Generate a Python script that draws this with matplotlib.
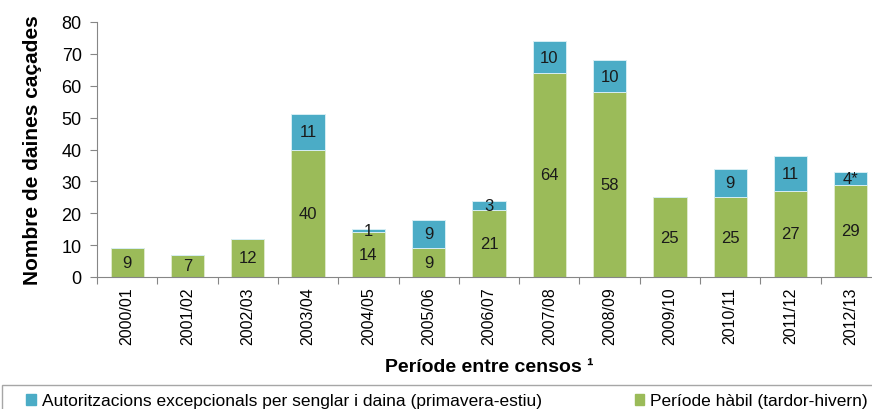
import numpy as np
import matplotlib.pyplot as plt
from matplotlib.patches import Rectangle

plt.rcParams["font.family"] = ["Liberation Sans", "DejaVu Sans"]

# ---------------------------------------------------------------------------
# Data
# ---------------------------------------------------------------------------

periods = ["2000/01", "2001/02", "2002/03", "2003/04", "2004/05", "2005/06",
           "2006/07", "2007/08", "2008/09", "2009/10", "2010/11", "2011/12",
           "2012/13"]
habil = [9, 7, 12, 40, 14, 9, 21, 64, 58, 25, 25, 27, 29]
excep = [0, 0, 0, 11, 1, 9, 3, 10, 10, 0, 9, 11, 4]
excep_labels = ["", "", "", "11", "1", "9", "3", "10", "10", "", "9", "11", "4*"]

GREEN = "#9BBB59"
BLUE = "#4BACC6"
GRID = "#868686"

# ---------------------------------------------------------------------------
# Plot
# ---------------------------------------------------------------------------

fig = plt.figure(figsize=(8.72, 4.10), dpi=100)
ax = fig.add_axes([97 / 872, 132 / 410, 784 / 872, 255 / 410])

x = np.arange(len(periods))
w = 0.55
ax.bar(x, habil, w, color=GREEN, edgecolor="#dfeacb", linewidth=0.7, zorder=2)
ax.bar(x, excep, w, bottom=habil, color=BLUE, edgecolor="#d6eef4",
       linewidth=0.7, zorder=2)

for i in range(len(periods)):
    ax.text(x[i], habil[i] / 2, str(habil[i]), ha="center", va="center",
            fontsize=12, color="#1a1a1a", zorder=3)
    if excep_labels[i]:
        ax.text(x[i], habil[i] + excep[i] / 2, excep_labels[i], ha="center",
                va="center", fontsize=12, color="#1a1a1a", zorder=3)

ax.set_xlim(-0.5, len(periods) - 0.5)
ax.set_ylim(0, 80)
ax.set_yticks(np.arange(0, 81, 10))

ax.set_xticks(np.arange(-0.5, len(periods), 1.0))
ax.set_xticklabels([])
ax.set_xticks(x, minor=True)
ax.set_xticklabels(periods, minor=True, rotation=90, fontsize=11.5)
ax.tick_params(axis="x", which="minor", length=0, pad=7)
ax.tick_params(axis="x", which="major", length=5, color=GRID)
ax.tick_params(axis="y", length=5, color=GRID, labelsize=13, pad=6)

for s in ["top", "right"]:
    ax.spines[s].set_visible(False)
for s in ["left", "bottom"]:
    ax.spines[s].set_color(GRID)

ax.set_ylabel("Nombre de daines caçades", fontsize=15, fontweight="bold",
              labelpad=14)
ax.set_xlabel("Període entre censos \u00b9", fontsize=14, fontweight="bold",
              labelpad=10)

# legend frame drawn separately so the entries can sit where they do in the original
fig.patches.append(Rectangle((2 / 872, -0.05), 1.0, 0.05 + 1 - 386 / 410,
                             transform=fig.transFigure, facecolor="none",
                             edgecolor="#a6a6a6", linewidth=1.0))

h1 = Rectangle((0, 0), 1, 1, color=BLUE)
h2 = Rectangle((0, 0), 1, 1, color=GREEN)
leg = fig.legend([h1, h2],
                 ["Autoritzacions excepcionals per senglar i daina (primavera-estiu)",
                  "Període hàbil (tardor-hivern)"],
                 loc="center left",
                 bbox_to_anchor=(26 / 872, 8 / 410 - 0.02, (868 - 26) / 872, 0.04),
                 mode="expand", ncol=2, fontsize=12.5, frameon=False,
                 handlelength=0.55, handleheight=0.55, handletextpad=0.35,
                 borderaxespad=0, borderpad=0)

fig.savefig("out.png", dpi=100)
